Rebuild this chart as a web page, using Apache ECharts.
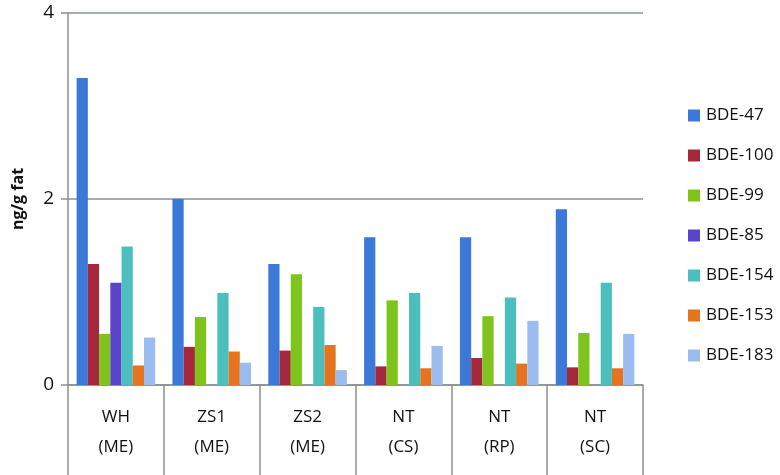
<!DOCTYPE html>
<html>
<head>
<meta charset="utf-8">
<script src="https://cdn.jsdelivr.net/npm/echarts@6/dist/echarts.min.js"></script>
<style>
  html, body { margin: 0; padding: 0; background: #fff; }
  #main { width: 780px; height: 475px; }
</style>
</head>
<body>
<div id="main"></div>
<script>
var categories = ['WH\n(ME)', 'ZS1\n(ME)', 'ZS2\n(ME)', 'NT\n(CS)', 'NT\n(RP)', 'NT\n(SC)'];
var seriesNames = ['BDE-47', 'BDE-100', 'BDE-99', 'BDE-85', 'BDE-154', 'BDE-153', 'BDE-183'];
var colors = ['#3c78d8', '#a6283c', '#7ec41c', '#5a45c8', '#4bbebe', '#e5741e', '#9bbcf0'];

var bde47  = [3.30, 2.00, 1.30, 1.59, 1.59, 1.89];
var bde100 = [1.30, 0.41, 0.37, 0.20, 0.29, 0.19];
var bde99  = [0.55, 0.73, 1.19, 0.91, 0.74, 0.56];
var bde85  = [1.10, 0, 0, 0, 0, 0];
var bde154 = [1.49, 0.99, 0.84, 0.99, 0.94, 1.10];
var bde153 = [0.21, 0.36, 0.43, 0.18, 0.23, 0.18];
var bde183 = [0.51, 0.24, 0.16, 0.42, 0.69, 0.55];

var values = [bde47, bde100, bde99, bde85, bde154, bde153, bde183];

var myChart = echarts.init(document.getElementById('main'));

var series = seriesNames.map(function (name, i) {
    return {
        name: name,
        type: 'bar',
        data: values[i],
        barGap: '0%',
        barCategoryGap: '18%',
        itemStyle: { color: colors[i] }
    };
});

myChart.setOption({
    animation: false,
    textStyle: { fontFamily: '"Open Sans", "Noto Sans", sans-serif' },
    legend: {
        orient: 'vertical',
        left: 683,
        top: 102,
        itemWidth: 12,
        itemHeight: 12,
        itemGap: 23,
        icon: 'rect',
        textStyle: { fontSize: 17, color: '#111', padding: [0, 0, 0, 1] },
        data: seriesNames
    },
    grid: { left: 68, right: 137, top: 13, bottom: 90 },
    xAxis: {
        type: 'category',
        data: categories,
        axisLine: { lineStyle: { color: '#8a9090', width: 1.5 } },
        axisTick: {
            show: true,
            interval: 0,
            length: 92,
            lineStyle: { color: '#8a9090', width: 1.5 }
        },
        axisLabel: {
            interval: 0,
            margin: 17,
            fontSize: 17,
            lineHeight: 30,
            color: '#111'
        }
    },
    yAxis: {
        type: 'value',
        min: 0,
        max: 4,
        interval: 2,
        name: 'ng/g fat',
        nameLocation: 'middle',
        nameGap: 42,
        nameTextStyle: { fontSize: 16, fontWeight: 'bold', color: '#111' },
        axisLine: { show: true, lineStyle: { color: '#8a9090', width: 1.5 } },
        axisTick: { show: true, length: 7, lineStyle: { color: '#8a9090', width: 1.5 } },
        axisLabel: { fontSize: 19, color: '#111', margin: 14 },
        splitLine: { lineStyle: { color: '#8a9090', width: 1.5 } }
    },
    series: series
});
</script>
</body>
</html>
